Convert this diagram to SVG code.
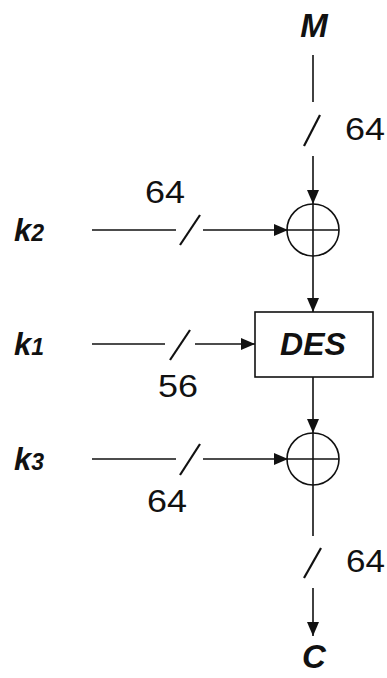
<svg xmlns="http://www.w3.org/2000/svg" width="387" height="678" viewBox="0 0 387 678">
<style>
.ln{stroke:#111;stroke-width:1.6;fill:none}
.sl{stroke:#111;stroke-width:2.2;fill:none}
.num{font-family:"Liberation Sans",Arial,sans-serif;font-size:31px;fill:#111}
.lab{font-family:"Liberation Sans",Arial,sans-serif;font-size:31px;font-weight:bold;font-style:italic;fill:#111}
.sub{font-size:23px}
</style>
<defs>
<marker id="ah" viewBox="0 0 14 12" refX="14" refY="6" markerWidth="14" markerHeight="12" markerUnits="userSpaceOnUse" orient="auto">
<path d="M0,0 L14,6 L0,12 Z" fill="#111"/>
</marker>
</defs>
<rect width="387" height="678" fill="#fff"/>
<g id="connectors">
<line class="ln" x1="313" y1="55" x2="313" y2="102"/>
<line class="sl" x1="304" y1="146" x2="320" y2="115"/>
<line class="ln" x1="313" y1="156" x2="313" y2="204" marker-end="url(#ah)"/>
<line class="ln" x1="92" y1="230" x2="176" y2="230"/>
<line class="sl" x1="180" y1="245" x2="200" y2="215"/>
<line class="ln" x1="203" y1="230" x2="288" y2="230" marker-end="url(#ah)"/>
<line class="ln" x1="313" y1="256" x2="313" y2="312" marker-end="url(#ah)"/>
<line class="ln" x1="92" y1="344" x2="165" y2="344"/>
<line class="sl" x1="170" y1="360" x2="190" y2="330"/>
<line class="ln" x1="195" y1="344" x2="255" y2="344" marker-end="url(#ah)"/>
<line class="ln" x1="313" y1="377" x2="313" y2="433" marker-end="url(#ah)"/>
<line class="ln" x1="92" y1="459" x2="176" y2="459"/>
<line class="sl" x1="180" y1="475" x2="200" y2="444"/>
<line class="ln" x1="203" y1="459" x2="288" y2="459" marker-end="url(#ah)"/>
<line class="ln" x1="313" y1="485" x2="313" y2="536"/>
<line class="sl" x1="304" y1="578" x2="321" y2="548"/>
<line class="ln" x1="313" y1="588" x2="313" y2="636" marker-end="url(#ah)"/>
</g>
<g id="M"><text class="lab" x="314" y="37" text-anchor="middle" style="font-size:33px">M</text></g>
<g id="lbl64a"><text class="num" x="345" y="140" textLength="40" lengthAdjust="spacingAndGlyphs">64</text></g>
<g id="xor1">
<circle class="ln" cx="313" cy="230" r="26"/>
<line class="ln" x1="287" y1="230" x2="339" y2="230"/>
<line class="ln" x1="313" y1="204" x2="313" y2="256"/>
</g>
<g id="k2"><text class="lab" x="14" y="241">k<tspan class="sub">2</tspan></text></g>
<g id="lbl64b"><text class="num" x="145" y="203" textLength="40" lengthAdjust="spacingAndGlyphs">64</text></g>
<g id="des">
<rect class="ln" x="255" y="312" width="118" height="65" fill="#fff"/>
<text class="lab" x="313" y="355" text-anchor="middle" style="font-size:32px">DES</text>
</g>
<g id="k1"><text class="lab" x="14" y="355">k<tspan class="sub">1</tspan></text></g>
<g id="lbl56"><text class="num" x="158" y="397" textLength="40" lengthAdjust="spacingAndGlyphs">56</text></g>
<g id="xor2">
<circle class="ln" cx="313" cy="459" r="26"/>
<line class="ln" x1="287" y1="459" x2="339" y2="459"/>
<line class="ln" x1="313" y1="433" x2="313" y2="485"/>
</g>
<g id="k3"><text class="lab" x="14" y="470">k<tspan class="sub">3</tspan></text></g>
<g id="lbl64c"><text class="num" x="147" y="512" textLength="40" lengthAdjust="spacingAndGlyphs">64</text></g>
<g id="lbl64d"><text class="num" x="346" y="572" textLength="39" lengthAdjust="spacingAndGlyphs">64</text></g>
<g id="C"><text class="lab" x="314" y="668" text-anchor="middle" style="font-size:33px">C</text></g>
</svg>
